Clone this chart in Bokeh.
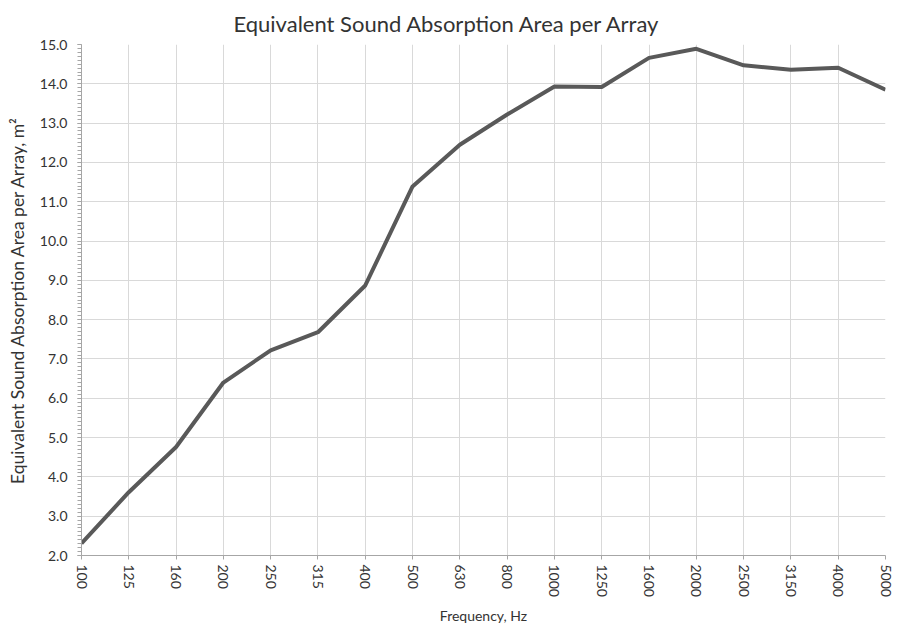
from bokeh.plotting import figure
from bokeh.models import FixedTicker, SingleIntervalTicker, Range1d, ColumnDataSource, NumeralTickFormatter
from bokeh.embed import file_html
from bokeh.resources import INLINE

freq_labels = ["100", "125", "160", "200", "250", "315", "400", "500", "630", "800",
               "1000", "1250", "1600", "2000", "2500", "3150", "4000", "5000"]
absorption = [2.31, 3.61, 4.76, 6.40, 7.22, 7.68, 8.87, 11.39, 12.45, 13.22,
              13.93, 13.92, 14.66, 14.89, 14.47, 14.36, 14.41, 13.85]

FONT = "Lato"
TXT = "#333333"

idx = list(range(len(freq_labels)))
src = ColumnDataSource(dict(x=idx, y=absorption))

p = figure(width=903, height=631, output_backend="svg", toolbar_location=None,
           x_range=Range1d(0, len(freq_labels) - 1), y_range=Range1d(2, 15),
           frame_width=804, frame_height=511,
           min_border_left=81, min_border_right=18, min_border_top=44, min_border_bottom=76,
           title="Equivalent Sound Absorption Area per Array")
p.outline_line_color = None
p.title.align = "left"
p.title.offset = 152
p.title.text_font = FONT
p.title.text_font_size = "22px"
p.title.text_font_style = "normal"
p.title.text_color = TXT
p.title.standoff = 15

p.line("x", "y", source=src, line_color="#595959", line_width=4)

p.xaxis.ticker = FixedTicker(ticks=idx)
p.xaxis.major_label_overrides = {i: lab for i, lab in enumerate(freq_labels)}
p.xaxis.major_label_orientation = "vertical"
p.yaxis.ticker = SingleIntervalTicker(interval=1, num_minor_ticks=10)
p.yaxis.formatter = NumeralTickFormatter(format="0.0")

for ax in (p.xaxis[0], p.yaxis[0]):
    ax.axis_line_color = "#a6a6a6"
    ax.major_tick_line_color = "#a6a6a6"
    ax.minor_tick_line_color = "#a6a6a6"
    ax.major_tick_out = 4
    ax.major_tick_in = 0
    ax.minor_tick_out = 4
    ax.minor_tick_in = 0
    ax.major_label_text_font = FONT
    ax.major_label_text_font_size = "14px"
    ax.major_label_text_color = TXT
    ax.axis_label_text_font = FONT
    ax.axis_label_text_font_style = "normal"
    ax.axis_label_text_color = TXT
p.xaxis.minor_tick_line_color = None
p.xaxis.axis_label = "Frequency, Hz"
p.yaxis.axis_label = "Equivalent Sound Absorption Area per Array, m²"
p.xaxis.axis_label_text_font_size = "14px"
p.yaxis.axis_label_text_font_size = "17.5px"
p.xaxis.major_label_standoff = 5
p.yaxis.major_label_standoff = 10
p.xaxis.axis_label_standoff = 7
p.yaxis.axis_label_standoff = 9

p.xgrid.grid_line_color = "#d9d9d9"
p.ygrid.grid_line_color = "#d9d9d9"
p.xgrid.grid_line_width = 1
p.ygrid.grid_line_width = 1

open("out.html", "w").write(file_html(p, INLINE))
